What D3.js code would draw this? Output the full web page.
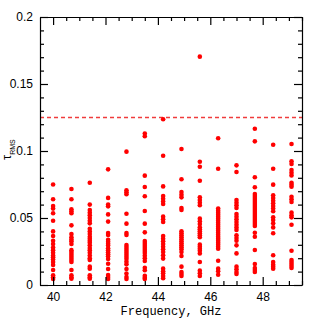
<!DOCTYPE html>
<html>
<head>
<meta charset="utf-8">
<script src="https://cdn.jsdelivr.net/npm/d3@7"></script>
<style>
  body { margin: 0; background: #fff; }
  .tick text { font-family: "Liberation Sans", Arial, sans-serif; font-size: 12px; fill: #000; }
  .axis path, .axis line { stroke: #000; stroke-width: 1.2; }
</style>
</head>
<body>
<div id="chart"></div>
<script>
// channel frequencies, GHz
var freqs = [40.0, 40.7, 41.4, 42.1, 42.8, 43.5, 44.2, 44.9, 45.6, 46.3, 47.0, 47.7, 48.4, 49.1];

// tau_RMS values per channel
var tau400 = [0.075,0.064,0.059,0.057,0.0535,0.048,0.040,0.0366,0.033,0.0306,0.028,0.026,0.024,0.022,0.0207,0.019,0.0172,0.015,0.0112,0.0072,0.0057,0.0045];
var tau407 = [0.0716,0.064,0.0565,0.055,0.0535,0.0445,0.038,0.0356,0.034,0.0326,0.0306,0.026,0.0246,0.0231,0.0216,0.0201,0.0187,0.0172,0.0112,0.0072,0.0057,0.0047];
var tau414 = [0.0763,0.060,0.056,0.054,0.052,0.050,0.048,0.046,0.042,0.040,0.038,0.036,0.0345,0.033,0.0316,0.0296,0.0276,0.026,0.024,0.022,0.020,0.0187,0.0137,0.0122,0.0072,0.0057,0.0047];
var tau421 = [0.0863,0.065,0.060,0.0587,0.0527,0.0473,0.0388,0.0373,0.0338,0.0323,0.0308,0.0294,0.0274,0.0259,0.0244,0.0229,0.0214,0.0194,0.0159,0.0119,0.0075,0.006,0.0045];
var tau428 = [0.0995,0.0707,0.0692,0.0677,0.0532,0.0458,0.0388,0.0373,0.0299,0.0284,0.0269,0.0254,0.0239,0.0224,0.0209,0.0194,0.0174,0.0154,0.0119,0.0085,0.006,0.0045];
var tau435 = [0.113,0.111,0.0816,0.0731,0.0662,0.0552,0.0458,0.0393,0.0328,0.0313,0.0299,0.0284,0.0269,0.0254,0.0239,0.0219,0.0199,0.0179,0.0129,0.011,0.0069,0.0055,0.0045];
var tau442 = [0.1237,0.0965,0.0736,0.0664,0.0644,0.0624,0.0604,0.051,0.049,0.047,0.0366,0.0346,0.0326,0.0306,0.0286,0.0266,0.0246,0.0222,0.0197,0.0122,0.0102,0.0087,0.0067,0.005];
var tau449 = [0.1015,0.0789,0.0694,0.0674,0.0654,0.0575,0.056,0.0401,0.0386,0.0371,0.0356,0.0341,0.0326,0.0311,0.0296,0.0281,0.0266,0.0246,0.0216,0.0137,0.0097,0.0082,0.0067];
var tau456 = [0.1704,0.092,0.0883,0.0778,0.0654,0.0634,0.0614,0.0595,0.0495,0.0475,0.0455,0.0431,0.0416,0.0401,0.0386,0.0371,0.0356,0.0301,0.0286,0.0271,0.0256,0.0236,0.0172,0.0107,0.0087,0.0067];
var tau463 = [0.1095,0.0868,0.057,0.0555,0.054,0.0525,0.051,0.0495,0.048,0.0465,0.045,0.0435,0.042,0.0405,0.039,0.0375,0.036,0.0346,0.0331,0.0316,0.0301,0.0286,0.0271,0.0181,0.0122,0.0102,0.0077];
var tau470 = [0.0893,0.0843,0.0634,0.0614,0.0595,0.0575,0.053,0.051,0.049,0.047,0.045,0.043,0.041,0.0371,0.0351,0.033,0.0296,0.0236,0.0137,0.0117,0.0097,0.0082];
var tau477 = [0.1166,0.1072,0.0804,0.0729,0.0679,0.0664,0.0649,0.0634,0.0619,0.0604,0.059,0.0575,0.056,0.0545,0.053,0.0515,0.05,0.0485,0.047,0.0455,0.044,0.039,0.036,0.0261,0.0157,0.0127,0.0112,0.0097];
var tau484 = [0.1047,0.0868,0.0749,0.0669,0.0649,0.0629,0.061,0.059,0.057,0.055,0.0505,0.0485,0.046,0.043,0.0386,0.0222,0.0172,0.0152,0.0137,0.0122];
var tau491 = [0.1052,0.0923,0.0903,0.0858,0.0838,0.0818,0.0763,0.0749,0.0734,0.0659,0.064,0.0619,0.054,0.052,0.0505,0.045,0.0256,0.0187,0.0172,0.0157,0.0142,0.0127];

var tauCols = [tau400, tau407, tau414, tau421, tau428, tau435, tau442, tau449, tau456, tau463, tau470, tau477, tau484, tau491];

var threshold = 0.125;

var xTicks = [40, 42, 44, 46, 48];
var yTicks = [0, 0.05, 0.1, 0.15, 0.2];

var margin = {top: 17, right: 17, bottom: 34, left: 40},
  width = 319 - margin.left - margin.right,
  height = 319 - margin.top - margin.bottom;

var svg = d3.select("#chart").append("svg")
  .attr("width", 319)
  .attr("height", 319)
  .append("g")
  .attr("transform", "translate(" + margin.left + "," + margin.top + ")");

var x = d3.scaleLinear().domain([39.5, 49.5]).range([0, width]);
var y = d3.scaleLinear().domain([0, 0.2]).range([height, 0]);

var xMinor = d3.range(40, 49.51, 0.5).filter(d => xTicks.indexOf(d) < 0);
var yMinor = d3.range(1, 20).filter(d => d % 5 != 0).map(d => d / 100);

// flatten points
var points = [];
tauCols.forEach(function(col, i) {
  col.forEach(function(v) { points.push({f: freqs[i], t: v}); });
});

// threshold line
svg.append("line")
  .attr("x1", 0).attr("x2", width)
  .attr("y1", y(threshold)).attr("y2", y(threshold))
  .attr("stroke", "#f03c3c")
  .attr("stroke-width", 1.6)
  .attr("stroke-dasharray", "4,3");

svg.selectAll("circle.pt")
  .data(points)
  .enter().append("circle")
  .attr("class", "pt")
  .attr("cx", d => x(d.f))
  .attr("cy", d => y(d.t))
  .attr("r", 2.3)
  .attr("fill", "#ff0000");

// axes, ticks inward on all four sides
function minorAxis(axisFn, scale, vals, g) {
  g.call(axisFn(scale).tickValues(vals).tickSize(-4).tickFormat(""))
    .call(s => s.select(".domain").remove());
}

var gx = svg.append("g").attr("class", "axis").attr("transform", "translate(0," + height + ")");
gx.call(d3.axisBottom(x).tickValues(xTicks).tickSizeInner(-8).tickSizeOuter(0).tickPadding(7).tickFormat(d3.format("d")));
minorAxis(d3.axisBottom, x, xMinor, svg.append("g").attr("class", "axis").attr("transform", "translate(0," + height + ")"));

var gxt = svg.append("g").attr("class", "axis");
gxt.call(d3.axisTop(x).tickValues(xTicks).tickSizeInner(-8).tickSizeOuter(0).tickFormat(""));
minorAxis(d3.axisTop, x, xMinor, svg.append("g").attr("class", "axis"));

var gy = svg.append("g").attr("class", "axis");
gy.call(d3.axisLeft(y).tickValues(yTicks).tickSizeInner(-8).tickSizeOuter(0).tickPadding(7).tickFormat(d => d === 0 ? "0" : String(d)));
minorAxis(d3.axisLeft, y, yMinor, svg.append("g").attr("class", "axis"));

var gyr = svg.append("g").attr("class", "axis").attr("transform", "translate(" + width + ",0)");
gyr.call(d3.axisRight(y).tickValues(yTicks).tickSizeInner(-8).tickSizeOuter(0).tickFormat(""));
minorAxis(d3.axisRight, y, yMinor, svg.append("g").attr("class", "axis").attr("transform", "translate(" + width + ",0)"));

// x title
svg.append("text")
  .attr("x", width / 2)
  .attr("y", height + 30)
  .attr("text-anchor", "middle")
  .attr("font-family", "Liberation Mono, monospace")
  .attr("font-size", 12)
  .text("Frequency, GHz");

// y title
var yl = svg.append("text")
  .attr("transform", "translate(" + (11 - margin.left) + "," + (y(0.1) + 9) + ") rotate(-90)")
  .attr("font-family", "Liberation Sans, sans-serif")
  .attr("font-size", 13);
yl.append("tspan").text("τ");
yl.append("tspan").attr("font-size", 7).attr("dy", 3.5).text("RMS");
</script>
</body>
</html>
